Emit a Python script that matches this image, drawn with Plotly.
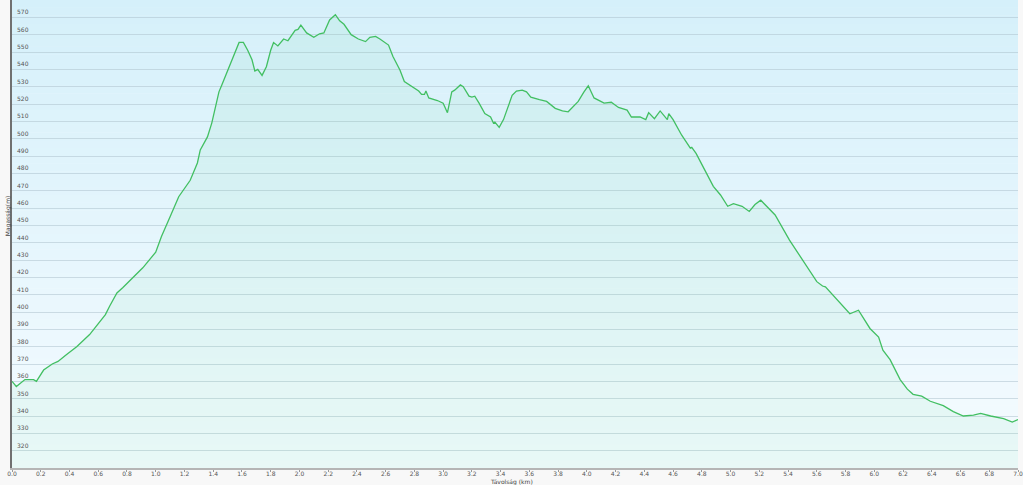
import plotly.graph_objects as go

# ---- elevation profile ----
distance_km = [
    0.00, 0.03, 0.09, 0.15, 0.17, 0.22, 0.28, 0.32, 0.38, 0.45,
    0.54, 0.60, 0.65, 0.68, 0.73, 0.77, 0.80, 0.91, 1.00, 1.04,
    1.10, 1.16, 1.24, 1.29, 1.31, 1.36, 1.39, 1.41, 1.44, 1.46,
    1.54, 1.58, 1.61, 1.64, 1.67, 1.69, 1.71, 1.74, 1.77, 1.80,
    1.82, 1.85, 1.89, 1.92, 1.97, 1.99, 2.01, 2.05, 2.10, 2.14,
    2.17, 2.21, 2.25, 2.28, 2.31, 2.36, 2.41, 2.46, 2.49, 2.53,
    2.56, 2.62, 2.65, 2.70, 2.73, 2.75, 2.78, 2.83, 2.85, 2.87,
    2.88, 2.90, 2.96, 3.00, 3.03, 3.06, 3.08, 3.12, 3.14, 3.18,
    3.20, 3.22, 3.25, 3.29, 3.33, 3.35, 3.36, 3.39, 3.42, 3.45,
    3.48, 3.51, 3.55, 3.58, 3.61, 3.67, 3.72, 3.78, 3.83, 3.87,
    3.91, 3.94, 3.98, 4.01, 4.05, 4.09, 4.12, 4.17, 4.22, 4.28,
    4.31, 4.37, 4.41, 4.43, 4.47, 4.51, 4.56, 4.57, 4.60, 4.66,
    4.72, 4.73, 4.76, 4.82, 4.88, 4.93, 4.98, 5.02, 5.08, 5.13,
    5.17, 5.21, 5.25, 5.31, 5.41, 5.52, 5.60, 5.64, 5.66, 5.83,
    5.89, 5.97, 6.03, 6.06, 6.11, 6.18, 6.23, 6.27, 6.33, 6.39,
    6.48, 6.55, 6.62, 6.69, 6.74, 6.81, 6.90, 6.96, 7.00,
]
elevation_m = [
    360, 357, 361, 361, 360, 366.5, 370, 371.5, 375.5, 380,
    387, 393.5, 398.5, 403.5, 411, 414, 416.5, 425.5, 434.5, 443.5,
    455, 466.5, 476, 486, 493.5, 501, 509, 516.5, 527, 531,
    547.5, 555.5, 555.5, 551, 545.5, 539, 540, 536.5, 541.5, 551,
    555.5, 553.5, 557.5, 556.5, 562.5, 563, 565.5, 561, 558.5, 560.5,
    561, 568.5, 571.5, 568, 566, 560, 557.5, 556, 558.5, 559,
    557.5, 554, 547.5, 539.5, 533, 532, 530.5, 527.5, 525.5, 525.5,
    527.5, 523.5, 522, 520.5, 515, 527, 528, 531, 530, 524.5,
    524, 524.5, 520.5, 514.5, 512.5, 509, 509.5, 506.5, 511, 518.5,
    525, 527.5, 528, 527, 524, 522.5, 521.5, 517.5, 516, 515.5,
    519, 521.5, 527, 530.5, 523.5, 522, 520.5, 521, 518, 516.5,
    512.5, 512.5, 511, 515, 511.5, 516, 511, 514.5, 511, 502,
    494.5, 495, 491.5, 482, 472.5, 467.5, 461, 462.5, 461, 458,
    462, 464.5, 461, 456, 441.5, 428, 417.5, 415, 414.5, 399,
    401, 390.5, 385.5, 378, 372.5, 361, 355.5, 352.5, 351.5, 348.5,
    346, 342.5, 340, 340.5, 341.5, 340, 338.5, 336.5, 338,
]

x_ticks = [round(i * 0.2, 1) for i in range(36)]
x_tick_labels = [f"{t:.1f}" for t in x_ticks]
y_ticks = list(range(320, 580, 10))
y_tick_labels = [str(v) for v in y_ticks]

fig = go.Figure()

# ---- elevation area ----
fig.add_trace(
    go.Scatter(
        x=distance_km,
        y=elevation_m,
        mode="lines",
        line=dict(color="#42bf62", width=1.3),
        fill="tozeroy",
        fillcolor="rgba(60,210,120,0.065)",
        hoverinfo="x+y",
        showlegend=False,
    )
)

# ---- background gradient (light blue top -> near white bottom) ----
top_rgb = (213, 240, 250)
bot_rgb = (245, 251, 255)
n_bands = 60
for i in range(n_bands):
    f = i / (n_bands - 1)
    c = tuple(round(bot_rgb[k] + (top_rgb[k] - bot_rgb[k]) * f) for k in range(3))
    fig.add_shape(
        type="rect",
        xref="paper",
        yref="paper",
        x0=0,
        x1=1,
        y0=i / n_bands,
        y1=(i + 1) / n_bands + 0.001,
        fillcolor=f"rgb{c}",
        line_width=0,
        layer="below",
    )

# ---- y tick labels: inside the plot, just above each gridline ----
for val, lab in zip(y_ticks, y_tick_labels):
    fig.add_annotation(
        text=lab,
        xref="paper",
        yref="y",
        x=0,
        y=val,
        xanchor="left",
        yanchor="bottom",
        xshift=3,
        showarrow=False,
        font=dict(family="DejaVu Sans", size=6, color="#555"),
    )

# ---- axis titles ----
fig.add_annotation(
    text="Magasság(m)",
    xref="paper",
    yref="paper",
    x=-0.004,
    y=0.54,
    xanchor="center",
    yanchor="middle",
    textangle=-90,
    showarrow=False,
    font=dict(family="DejaVu Sans", size=6, color="#444"),
)
fig.add_annotation(
    text="Távolság (km)",
    xref="paper",
    yref="paper",
    x=0.497,
    y=-0.029,
    xanchor="center",
    yanchor="middle",
    showarrow=False,
    font=dict(family="DejaVu Sans", size=6, color="#444"),
)

fig.update_layout(
    width=1023,
    height=485,
    margin=dict(l=12, r=5, t=0, b=17),
    paper_bgcolor="#f8f8f8",
    plot_bgcolor="#f5fbff",
    font=dict(family="DejaVu Sans", size=6, color="#555"),
    xaxis=dict(
        range=[0, 7.0],
        tickvals=x_ticks,
        ticktext=x_tick_labels,
        ticks="outside",
        ticklen=2,
        tickcolor="#999",
        ticklabelstandoff=-3,
        ticklabeloverflow="allow",
        showgrid=False,
        zeroline=False,
        showline=True,
        linecolor="#b5b5b5",
        linewidth=2,
        fixedrange=True,
    ),
    yaxis=dict(
        range=[310, 580],
        tickvals=y_ticks,
        showticklabels=False,
        ticks="",
        showgrid=True,
        gridcolor="rgba(175,195,205,0.55)",
        gridwidth=1,
        zeroline=False,
        showline=True,
        linecolor="#707070",
        linewidth=1.5,
        fixedrange=True,
    ),
)

fig.write_html(
    "out.html",
    config={"displayModeBar": False},
    post_script="document.body.style.margin='0';document.body.style.overflow='hidden';",
)
